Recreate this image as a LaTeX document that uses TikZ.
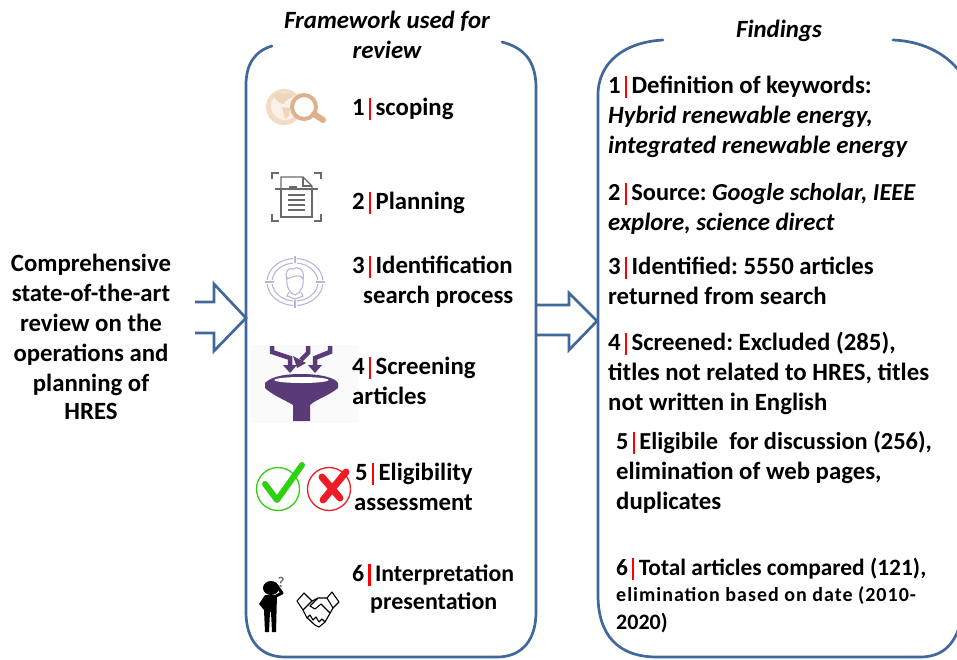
\documentclass[tikz,border=0pt]{standalone}
\usepackage{fontspec}
\setmainfont{Carlito}
\definecolor{frameblue}{HTML}{41689A}
\definecolor{iconpurple}{HTML}{5B3A78}
\definecolor{tanlight}{HTML}{F3DCC6}
\definecolor{tanpale}{HTML}{FBF1E7}
\definecolor{tandark}{HTML}{DFB08A}
\definecolor{lilac}{HTML}{BDB4D6}
\definecolor{docgray}{HTML}{6A6A6A}
\definecolor{okgreen}{HTML}{2FD00F}
\definecolor{nored}{HTML}{EE1C25}
\newcommand{\numbar}[1]{#1\hspace{4pt}\textcolor{red}{\rule[-5pt]{2.4pt}{22pt}}\hspace{4.4pt}}
\frenchspacing
\tikzset{
  frame/.style={draw=frameblue,line width=2.7pt,line cap=round},
  flowarrow/.style={draw=frameblue,line width=2.7pt,line join=miter},
  txt/.style={anchor=base west,inner sep=0pt,yshift=-1pt,font=\fontsize{24.8}{28}\selectfont\bfseries},
  ctxt/.style={anchor=base,inner sep=0pt,yshift=-1pt,font=\fontsize{24.8}{28}\selectfont\bfseries},
  ital/.style={anchor=base,inner sep=0pt,yshift=-1pt,font=\fontsize{24.8}{28}\selectfont\itshape\bfseries},
}
\begin{document}
\begin{tikzpicture}[x=1pt,y=-1pt]
\useasboundingbox (0,0) rectangle (957,659);
\clip (0,0) rectangle (957,659);
% frames
\draw[frame] (272,46) .. controls (255,51) and (246,64) .. (246,85) -- (246,612)
  .. controls (246,640) and (260,657) .. (285,657) -- (497,657)
  .. controls (522,657) and (536,640) .. (536,612) -- (536,88)
  .. controls (536,62) and (525,48) .. (502,42);
\draw[frame] (663,40) .. controls (625,42) and (598,62) .. (598,95) -- (598,595)
  .. controls (598,635) and (618,657) .. (657,657) -- (920,657)
  .. controls (942,657) and (953,645) .. (959,628);
\draw[frame] (893,40) .. controls (920,41) and (945,52) .. (960,72);
% arrows
\draw[flowarrow] (195,302) -- (214,302) -- (214,284) -- (246,318) -- (214,351) -- (214,333) -- (195,333);
\draw[flowarrow] (536,305) -- (569,305) -- (569,293) -- (597,321) -- (569,350) -- (569,335) -- (536,335);
% icon 1
\fill[tanlight] (284,107) circle (18);
\fill[tanpale] (285,106) circle (14);
\fill[tanlight!85!tandark] (274,96) .. controls (280,91) and (290,92) .. (294,95) .. controls (290,100) and (284,100) .. (284,104) .. controls (280,104) and (276,101) .. (274,96) -- cycle;
\fill[tanlight!85!tandark] (282,107) -- (290,108) -- (289,116) -- (285,119) -- cycle;
\fill[white] (304,107) circle (14);
\draw[tandark,line width=4pt] (304,107) circle (12);
\draw[tandark,line width=6pt,line cap=round] (314,114) -- (323,120);
% icon 2
\begin{scope}[draw=docgray,line width=1.4pt]
\draw (272,179) -- (272,173) -- (279,173);
\draw (314,173) -- (321,173) -- (321,179);
\draw (272,214) -- (272,221) -- (279,221);
\draw (314,221) -- (321,221) -- (321,214);
\draw (281,189) -- (281,217) -- (312,217) -- (312,189);
\draw (281,189) -- (281,177) -- (303,177) -- (312,186) -- (312,189);
\draw (303,177) -- (303,186) -- (312,186);
\draw (275,189) -- (318,189);
\draw (289,187) -- (297,187);
\foreach \yy in {195,200,205,210}{\draw (288,\yy) -- (305,\yy);}
\end{scope}
% icon 3
\begin{scope}[draw=lilac,line width=1.1pt]
\draw (295,282) circle [x radius=28,y radius=23.5];
\draw (295,282) circle [x radius=23,y radius=19];
\fill[white] (262,280) rectangle (330,284);
\fill[white] (293,255) rectangle (297,310);
\draw (265,282) -- (274,282);
\draw (316,282) -- (325,282);
\draw (295,256) -- (295,263);
\draw (295,300) -- (295,308);
\draw (287,277) .. controls (286,286) and (289,293) .. (295,295) .. controls (301,293) and (304,286) .. (303,277);
\draw (287,279) .. controls (284,271) and (289,267) .. (293,269) .. controls (297,266) and (305,268) .. (303,279) .. controls (300,273) and (292,277) .. (287,279);
\draw (289,292) -- (287,296) -- (295,299) -- (303,296) -- (301,292);
\end{scope}
% icon 4
\fill[black!2] (250,345) rectangle (358,423);
\fill[iconpurple] (265,383) .. controls (270,378) and (280,374) .. (301,374) .. controls (322,374) and (335,378) .. (338,383)
  -- (338,388) .. controls (330,395) and (315,400) .. (310,405) -- (310,421) -- (293,421) -- (293,405)
  .. controls (285,400) and (272,395) .. (265,388) -- cycle;
\fill[white] (301.5,380) ellipse [x radius=27,y radius=3];
\begin{scope}[iconpurple,line width=4.5pt]
\draw (272,346) -- (272,352) -- (290,358) -- (290,366);
\draw (308,346) -- (308,353) -- (301,360);
\draw (330,346) -- (330,352) -- (315,358) -- (315,366);
\fill (283,365) -- (297,365) -- (290,373) -- cycle;
\fill (293,356) -- (306,363) -- (297,368) -- cycle;
\fill (308,365) -- (322,365) -- (315,373) -- cycle;
\end{scope}
% icon 5
\draw[okgreen,line width=1.3pt] (278,489) circle (21.5);
\draw[okgreen,line width=6pt,line cap=round,line join=round] (265,484) -- (277,500) -- (302,465);
\draw[nored,line width=1.3pt] (329,489) circle (21.5);
\draw[nored,line width=7pt,line cap=round] (322,477) -- (340,498);
\draw[nored,line width=7pt,line cap=round] (346,472) -- (323,500);
% icon 6
\fill[black] (271,588) ellipse [x radius=8,y radius=7];
\fill[black] (265,595) -- (277,595) -- (276,632) -- (272,632) -- (271,612) -- (270,612) -- (269,632) -- (265,632) -- (264,610) -- (259,604) -- cycle;
\draw[black,line width=3pt,line join=round] (276,596) -- (282,593) -- (277,586);
\node[inner sep=0pt,font=\fontsize{15}{16}\selectfont\bfseries,text=black!55] (q) at (281,582) {?};
\begin{scope}[black,line width=1.1pt,line join=round]
\draw (297,601) -- (304,593) -- (312,601) -- (303,610) -- cycle;
\draw (327,598) -- (332,592) -- (339,602) -- (333,608) -- cycle;
\draw (303,610) -- (307,618) .. controls (311,620) and (314,626) .. (319,627) -- (325,622) -- (333,608);
\draw (312,601) -- (318,598) -- (327,598);
\draw (318,598) -- (310,606) -- (315,609) -- (321,604) -- (330,613);
\draw (307,618) -- (310,615) -- (313,620) -- (316,617) -- (319,622) -- (322,619) -- (325,622);
\end{scope}
% left text
\node[ctxt] (c1) at (91,270) {Comprehensive};
\node[ctxt] (c2) at (91,300) {state-of-the-art};
\node[ctxt] (c3) at (91,330) {review on the};
\node[ctxt] (c4) at (91,360) {operations and};
\node[ctxt] (c5) at (91,390) {planning of};
\node[ctxt] (c6) at (91,418) {HRES};
% headings
\node[ital] (h1) at (387,27) {Framework used for};
\node[ital] (h2) at (387,57) {review};
\node[ital] (h3) at (779,36) {Findings};
% middle
\node[txt] (m1) at (352,114) {\numbar{1}scoping};
\node[txt] (m2) at (352,208) {\numbar{2}Planning};
\node[txt] (m3) at (352,272) {\numbar{3}Identification};
\node[txt] (m3b) at (363,302) {search process};
\node[txt] (m4) at (352,373) {\numbar{4}Screening};
\node[txt] (m4b) at (352,403) {articles};
\node[txt] (m5) at (355,479) {\numbar{5}Eligibility};
\node[txt] (m5b) at (354,509) {assessment};
\node[txt,font=\fontsize{23.8}{28}\selectfont\bfseries] (m6) at (352,580) {\numbar{6}Interpretation};
\node[txt,font=\fontsize{24}{28}\selectfont\bfseries] (m6b) at (370,608) {presentation};
% right
\node[txt] (r1) at (608,92) {\numbar{1}Definition of keywords:};
\node[txt] (r1b) at (608,122) {\textit{Hybrid renewable energy,}};
\node[txt] (r1c) at (608,152) {\textit{integrated renewable energy}};
\node[txt,font=\fontsize{24.4}{28}\selectfont\bfseries] (r2) at (608,199) {\numbar{2}Source: \textit{Google scholar, IEEE}};
\node[txt] (r2b) at (608,229) {\textit{explore, science direct}};
\node[txt] (r3) at (608,273) {\numbar{3}Identified: 5550 articles};
\node[txt] (r3b) at (608,303) {returned from search};
\node[txt] (r4) at (608,349) {\numbar{4}Screened: Excluded (285),};
\node[txt] (r4b) at (608,379) {titles not related to HRES, titles};
\node[txt] (r4c) at (608,409) {not written in English};
\node[txt,font=\fontsize{24.4}{28}\selectfont\bfseries] (r5) at (616,448) {\numbar{5}Eligibile\ \ for discussion (256),};
\node[txt] (r5b) at (616,478) {elimination of web pages,};
\node[txt] (r5c) at (616,508) {duplicates};
\node[txt,font=\fontsize{23.4}{28}\selectfont\bfseries] (r6) at (616,574) {\numbar{6}Total articles compared (121),};
\node[txt,font=\fontsize{20}{24}\selectfont\bfseries\addfontfeature{LetterSpace=5}] (r6b) at (616,600) {elimination based on date (2010-};
\node[txt,font=\fontsize{22}{26}\selectfont\bfseries] (r6c) at (616,628) {2020)};
\end{tikzpicture}
\end{document}
